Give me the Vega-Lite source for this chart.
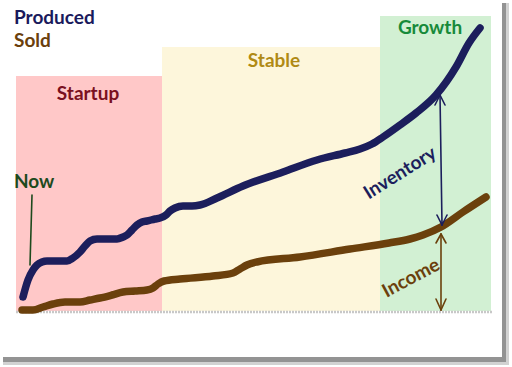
{
  "$schema": "https://vega.github.io/schema/vega-lite/v6.json",
  "width": 512,
  "height": 367,
  "autosize": {"type": "fit", "contains": "padding"},
  "padding": 0,
  "background": "white",
  "config": {"view": {"stroke": null}, "axis": {"disable": true}},
  "resolve": {"scale": {"color": "independent", "fill": "independent", "stroke": "independent", "angle": "independent"}},
  "datasets": {
    "frame": [
      {"part": "outer shadow", "t": 3, "t2": 509, "v": 309, "v2": -53},
      {"part": "inner shadow", "t": 3, "t2": 506, "v": 309, "v2": -50},
      {"part": "paper", "t": 0, "t2": 502, "v": 312, "v2": -45}
    ],
    "regions": [
      {"region": "Startup", "t": 16, "t2": 162, "v": 1, "v2": 236},
      {"region": "Stable", "t": 162, "t2": 380, "v": 1, "v2": 265},
      {"region": "Growth", "t": 380, "t2": 491, "v": 1, "v2": 296}
    ],
    "baseline": [
      {"t": 16, "v": 0},
      {"t": 492, "v": 0}
    ],
    "series": [
      {"series": "Produced", "t": 23, "v": 15},
      {"series": "Produced", "t": 28, "v": 32},
      {"series": "Produced", "t": 33, "v": 42},
      {"series": "Produced", "t": 37, "v": 47},
      {"series": "Produced", "t": 42, "v": 50},
      {"series": "Produced", "t": 47, "v": 51},
      {"series": "Produced", "t": 57, "v": 51},
      {"series": "Produced", "t": 67, "v": 51},
      {"series": "Produced", "t": 73, "v": 54},
      {"series": "Produced", "t": 80, "v": 60},
      {"series": "Produced", "t": 85, "v": 66},
      {"series": "Produced", "t": 90, "v": 71},
      {"series": "Produced", "t": 97, "v": 73},
      {"series": "Produced", "t": 107, "v": 73},
      {"series": "Produced", "t": 117, "v": 73},
      {"series": "Produced", "t": 123, "v": 75},
      {"series": "Produced", "t": 127, "v": 77},
      {"series": "Produced", "t": 132, "v": 82},
      {"series": "Produced", "t": 137, "v": 87},
      {"series": "Produced", "t": 142, "v": 90},
      {"series": "Produced", "t": 147, "v": 91},
      {"series": "Produced", "t": 155, "v": 93},
      {"series": "Produced", "t": 160, "v": 94},
      {"series": "Produced", "t": 166, "v": 97},
      {"series": "Produced", "t": 170, "v": 101},
      {"series": "Produced", "t": 175, "v": 104},
      {"series": "Produced", "t": 183, "v": 106},
      {"series": "Produced", "t": 192, "v": 106},
      {"series": "Produced", "t": 200, "v": 107},
      {"series": "Produced", "t": 217, "v": 114},
      {"series": "Produced", "t": 243, "v": 126},
      {"series": "Produced", "t": 283, "v": 140},
      {"series": "Produced", "t": 317, "v": 152},
      {"series": "Produced", "t": 345, "v": 159},
      {"series": "Produced", "t": 360, "v": 163},
      {"series": "Produced", "t": 372, "v": 168},
      {"series": "Produced", "t": 383, "v": 175},
      {"series": "Produced", "t": 400, "v": 187},
      {"series": "Produced", "t": 416, "v": 199},
      {"series": "Produced", "t": 436, "v": 217},
      {"series": "Produced", "t": 456, "v": 245},
      {"series": "Produced", "t": 469, "v": 269},
      {"series": "Produced", "t": 480, "v": 284},
      {"series": "Sold", "t": 22, "v": 2},
      {"series": "Sold", "t": 33, "v": 2},
      {"series": "Sold", "t": 43, "v": 5},
      {"series": "Sold", "t": 53, "v": 8},
      {"series": "Sold", "t": 65, "v": 10},
      {"series": "Sold", "t": 80, "v": 10},
      {"series": "Sold", "t": 90, "v": 12},
      {"series": "Sold", "t": 100, "v": 14},
      {"series": "Sold", "t": 112, "v": 17},
      {"series": "Sold", "t": 123, "v": 20},
      {"series": "Sold", "t": 135, "v": 21},
      {"series": "Sold", "t": 147, "v": 22},
      {"series": "Sold", "t": 153, "v": 24},
      {"series": "Sold", "t": 158, "v": 28},
      {"series": "Sold", "t": 164, "v": 31},
      {"series": "Sold", "t": 180, "v": 33},
      {"series": "Sold", "t": 213, "v": 36},
      {"series": "Sold", "t": 233, "v": 39},
      {"series": "Sold", "t": 240, "v": 43},
      {"series": "Sold", "t": 247, "v": 47},
      {"series": "Sold", "t": 257, "v": 50},
      {"series": "Sold", "t": 300, "v": 55},
      {"series": "Sold", "t": 350, "v": 63},
      {"series": "Sold", "t": 389, "v": 69},
      {"series": "Sold", "t": 410, "v": 73},
      {"series": "Sold", "t": 423, "v": 77},
      {"series": "Sold", "t": 441, "v": 85},
      {"series": "Sold", "t": 463, "v": 100},
      {"series": "Sold", "t": 486, "v": 115}
    ],
    "segments": [
      {"what": "Now", "t": 32, "v": 117, "t2": 30, "v2": 47},
      {"what": "Inventory", "t": 440, "v": 217, "t2": 442, "v2": 87},
      {"what": "Inventory", "t": 440, "v": 217, "t2": 435, "v2": 207},
      {"what": "Inventory", "t": 440, "v": 217, "t2": 445, "v2": 207},
      {"what": "Inventory", "t": 442, "v": 87, "t2": 437, "v2": 97},
      {"what": "Inventory", "t": 442, "v": 87, "t2": 447, "v2": 97},
      {"what": "Income", "t": 441, "v": 78, "t2": 441, "v2": 2},
      {"what": "Income", "t": 441, "v": 78, "t2": 436, "v2": 69},
      {"what": "Income", "t": 441, "v": 78, "t2": 446, "v2": 69},
      {"what": "Income", "t": 441, "v": 2, "t2": 436, "v2": 13},
      {"what": "Income", "t": 441, "v": 2, "t2": 446, "v2": 13}
    ],
    "legendlabels": [
      {"label": "Produced", "t": 14, "v": 294},
      {"label": "Sold", "t": 14, "v": 271},
      {"label": "Now", "t": 14, "v": 130}
    ],
    "labels": [
      {"label": "Startup", "t": 88, "v": 218},
      {"label": "Stable", "t": 274, "v": 251},
      {"label": "Growth", "t": 430, "v": 284}
    ],
    "slanted": [
      {"label": "Inventory", "t": 400, "v": 139},
      {"label": "Income", "t": 411, "v": 34}
    ]
  },
  "layer": [
    {
      "data": {"name": "frame"},
      "mark": {"type": "rect"},
      "encoding": {
        "x": {"field": "t", "type": "quantitative", "scale": {"domain": [0, 512], "nice": false, "zero": false}},
        "x2": {"field": "t2"},
        "y": {"field": "v", "type": "quantitative", "scale": {"domain": [-55, 312], "nice": false, "zero": false}},
        "y2": {"field": "v2"},
        "color": {"field": "part", "type": "nominal", "legend": null,
          "scale": {"domain": ["outer shadow", "inner shadow", "paper"], "range": ["#d2d2d2", "#939393", "#ffffff"]}},
        "order": {"field": "v2", "type": "quantitative"}
      }
    },
    {
      "data": {"name": "regions"},
      "mark": {"type": "rect"},
      "encoding": {
        "x": {"field": "t", "type": "quantitative"},
        "x2": {"field": "t2"},
        "y": {"field": "v", "type": "quantitative"},
        "y2": {"field": "v2"},
        "fill": {"field": "region", "type": "nominal", "legend": null,
          "scale": {"domain": ["Startup", "Stable", "Growth"], "range": ["#ffc8c8", "#fdf6db", "#d2f0d3"]}}
      }
    },
    {
      "data": {"name": "baseline"},
      "mark": {"type": "line", "color": "#c8c8c8", "strokeWidth": 2.5, "strokeDash": [2, 1]},
      "encoding": {
        "x": {"field": "t", "type": "quantitative"},
        "y": {"field": "v", "type": "quantitative"}
      }
    },
    {
      "data": {"name": "series"},
      "mark": {"type": "line", "interpolate": "monotone", "strokeWidth": 7.5, "strokeCap": "round", "strokeJoin": "round"},
      "encoding": {
        "x": {"field": "t", "type": "quantitative"},
        "y": {"field": "v", "type": "quantitative"},
        "stroke": {"field": "series", "type": "nominal", "legend": null,
          "scale": {"domain": ["Produced", "Sold"], "range": ["#1c1e5c", "#6b400c"]}}
      }
    },
    {
      "data": {"name": "segments"},
      "mark": {"type": "rule", "strokeWidth": 1.6, "strokeCap": "round"},
      "encoding": {
        "x": {"field": "t", "type": "quantitative"},
        "y": {"field": "v", "type": "quantitative"},
        "x2": {"field": "t2"},
        "y2": {"field": "v2"},
        "color": {"field": "what", "type": "nominal", "legend": null,
          "scale": {"domain": ["Now", "Inventory", "Income"], "range": ["#1d4a1d", "#1c1e5c", "#6b400c"]}}
      }
    },
    {
      "data": {"name": "legendlabels"},
      "mark": {"type": "text", "font": "Lato", "fontWeight": "bold", "fontSize": 19, "baseline": "middle", "align": "left"},
      "encoding": {
        "x": {"field": "t", "type": "quantitative"},
        "y": {"field": "v", "type": "quantitative"},
        "text": {"field": "label"},
        "color": {"field": "label", "type": "nominal", "legend": null,
          "scale": {"domain": ["Produced", "Sold", "Now"], "range": ["#1a1a5c", "#6b400c", "#1d4a1d"]}}
      }
    },
    {
      "data": {"name": "labels"},
      "mark": {"type": "text", "font": "Lato", "fontWeight": "bold", "fontSize": 19, "baseline": "middle", "align": "center"},
      "encoding": {
        "x": {"field": "t", "type": "quantitative"},
        "y": {"field": "v", "type": "quantitative"},
        "text": {"field": "label"},
        "color": {"field": "label", "type": "nominal", "legend": null,
          "scale": {"domain": ["Startup", "Stable", "Growth"], "range": ["#7a1020", "#b08a14", "#178a3a"]}}
      }
    },
    {
      "data": {"name": "slanted"},
      "mark": {"type": "text", "font": "Lato", "fontWeight": "bold", "fontSize": 19, "align": "center", "baseline": "middle"},
      "encoding": {
        "x": {"field": "t", "type": "quantitative"},
        "y": {"field": "v", "type": "quantitative"},
        "text": {"field": "label"},
        "angle": {"field": "label", "type": "nominal", "legend": null,
          "scale": {"domain": ["Inventory", "Income"], "range": [328, 332]}},
        "color": {"field": "label", "type": "nominal", "legend": null,
          "scale": {"domain": ["Inventory", "Income"], "range": ["#1c1e5c", "#6b400c"]}}
      }
    }
  ]
}
